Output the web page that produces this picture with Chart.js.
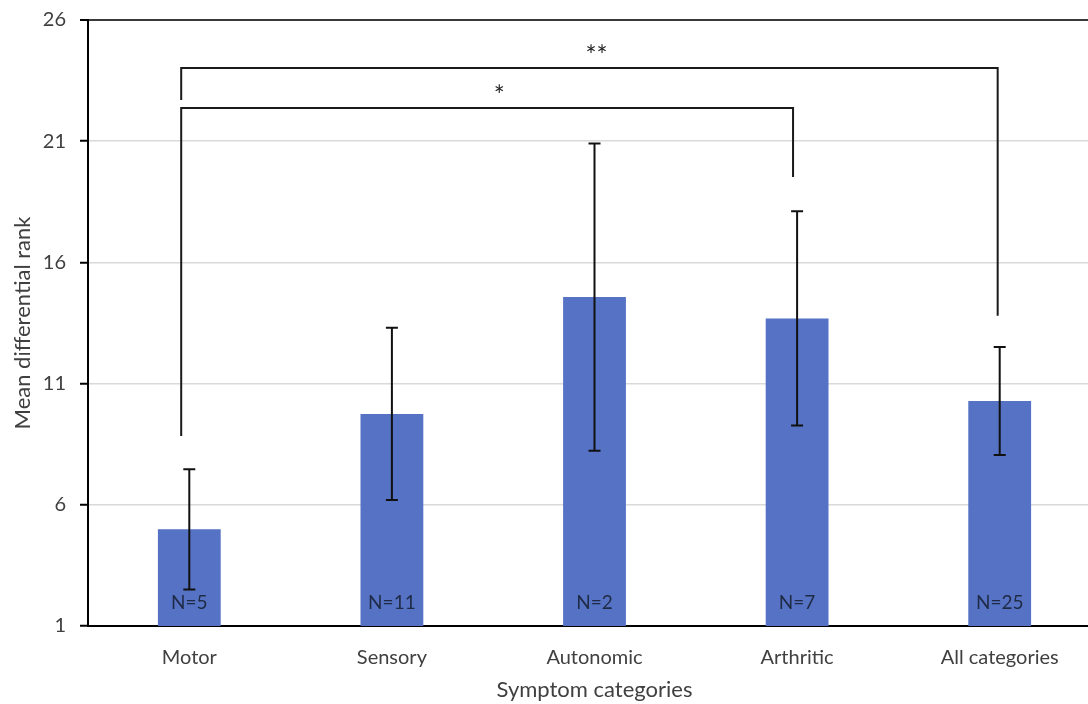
<!DOCTYPE html>
<html>
<head>
<meta charset="utf-8">
<script src="https://cdn.jsdelivr.net/npm/chart.js@4"></script>
<style>
  html, body { margin: 0; padding: 0; background: #fff; overflow: hidden; }
  #wrap { width: 1088px; height: 704px; overflow: hidden; }
</style>
</head>
<body>
<div id="wrap"><canvas id="chart" width="1101" height="704"></canvas></div>
<script>
const categories = ["Motor", "Sensory", "Autonomic", "Arthritic", "All categories"];
const meanRank = [4.99, 9.75, 14.57, 13.69, 10.28];
const errorMargin = [2.48, 3.55, 6.34, 4.42, 2.23];
const groupSizes = ["N=5", "N=11", "N=2", "N=7", "N=25"];
const yTicks = [1, 6, 11, 16, 21, 26];

// significance brackets: x as category index, y in rank units
const bracketFrom = [-0.04, -0.04];
const bracketTo = [3.99, 2.98];
const bracketLevel = [24.02, 22.37];
const bracketFromEnd = [22.7, 8.84];
const bracketToEnd = [13.8, 19.52];
const bracketLabel = ["**", "*"];
const bracketLabelAt = [2.01, 1.53];

const fontFamily = "Lato, 'Liberation Sans', sans-serif";
const textColor = "#404040";

const errorBars = {
  id: "errorBars",
  afterDatasetsDraw(chart) {
    const ctx = chart.ctx;
    const y = chart.scales.y;
    const meta = chart.getDatasetMeta(0);
    ctx.save();
    ctx.strokeStyle = "#111";
    ctx.lineWidth = 2;
    meta.data.forEach((bar, i) => {
      const top = y.getPixelForValue(meanRank[i] + errorMargin[i]);
      const bot = y.getPixelForValue(meanRank[i] - errorMargin[i]);
      ctx.beginPath();
      ctx.moveTo(bar.x, top);
      ctx.lineTo(bar.x, bot);
      ctx.moveTo(bar.x - 6, top);
      ctx.lineTo(bar.x + 6, top);
      ctx.moveTo(bar.x - 6, bot);
      ctx.lineTo(bar.x + 6, bot);
      ctx.stroke();
    });
    // N labels at the foot of each bar
    ctx.fillStyle = "#1f2a44";
    ctx.font = "19px " + fontFamily;
    ctx.textAlign = "center";
    ctx.textBaseline = "middle";
    meta.data.forEach((bar, i) => {
      ctx.fillText(groupSizes[i], bar.x, chart.chartArea.bottom - 23);
    });
    ctx.restore();
  }
};

const brackets = {
  id: "brackets",
  afterDatasetsDraw(chart) {
    const ctx = chart.ctx;
    const x = chart.scales.x;
    const y = chart.scales.y;
    ctx.save();
    ctx.strokeStyle = "#1a1a1a";
    ctx.lineWidth = 2;
    ctx.fillStyle = "#262626";
    ctx.font = "26px " + fontFamily;
    ctx.textAlign = "center";
    ctx.textBaseline = "alphabetic";
    for (let i = 0; i < bracketLabel.length; i++) {
      const x1 = x.getPixelForValue(bracketFrom[i]);
      const x2 = x.getPixelForValue(bracketTo[i]);
      const yl = y.getPixelForValue(bracketLevel[i]);
      ctx.beginPath();
      ctx.moveTo(x1, y.getPixelForValue(bracketFromEnd[i]));
      ctx.lineTo(x1, yl);
      ctx.lineTo(x2, yl);
      ctx.lineTo(x2, y.getPixelForValue(bracketToEnd[i]));
      ctx.stroke();
      ctx.fillText(bracketLabel[i], x.getPixelForValue(bracketLabelAt[i]), yl - 3);
    }
    ctx.restore();
  }
};

new Chart(document.getElementById("chart"), {
  type: "bar",
  data: {
    labels: categories,
    datasets: [{
      data: meanRank,
      backgroundColor: "#5572c4",
      borderWidth: 0,
      barPercentage: 1,
      categoryPercentage: 0.31
    }]
  },
  options: {
    responsive: false,
    animation: false,
    layout: { padding: { top: 20, left: 0, right: 0, bottom: 0 } },
    plugins: { legend: { display: false }, tooltip: { enabled: false } },
    scales: {
      x: {
        grid: { display: false, drawTicks: false },
        border: { display: true, color: "#000", width: 2 },
        ticks: { color: textColor, font: { family: fontFamily, size: 20 }, padding: 20 },
        title: {
          display: true,
          text: "Symptom categories",
          color: textColor,
          font: { family: fontFamily, size: 22 },
          padding: { top: 0, bottom: 1 }
        },
        afterFit(scale) {
          scale.height = 78;
          scale.paddingLeft = 0;
          scale.paddingRight = 0;
        }
      },
      y: {
        min: 1,
        max: 26,
        afterBuildTicks(scale) { scale.ticks = yTicks.map(v => ({ value: v })); },
        grid: {
          color: ctx => ctx.tick && ctx.tick.value === 26 ? "#3a3a3a" : "#d9d9d9",
          lineWidth: ctx => ctx.tick && ctx.tick.value === 26 ? 2 : 1.5,
          tickColor: "#000",
          tickLength: 8,
          tickWidth: 2
        },
        border: { display: true, color: "#000", width: 2 },
        ticks: { color: textColor, font: { family: fontFamily, size: 20 }, padding: 14 },
        title: {
          display: true,
          text: "Mean differential rank",
          color: textColor,
          font: { family: fontFamily, size: 22 },
          padding: { top: 10, bottom: 0 }
        },
        afterFit(scale) {
          scale.width = 88;
          scale.paddingTop = 0;
          scale.paddingBottom = 0;
        }
      }
    }
  },
  plugins: [errorBars, brackets]
});
</script>
</body>
</html>
